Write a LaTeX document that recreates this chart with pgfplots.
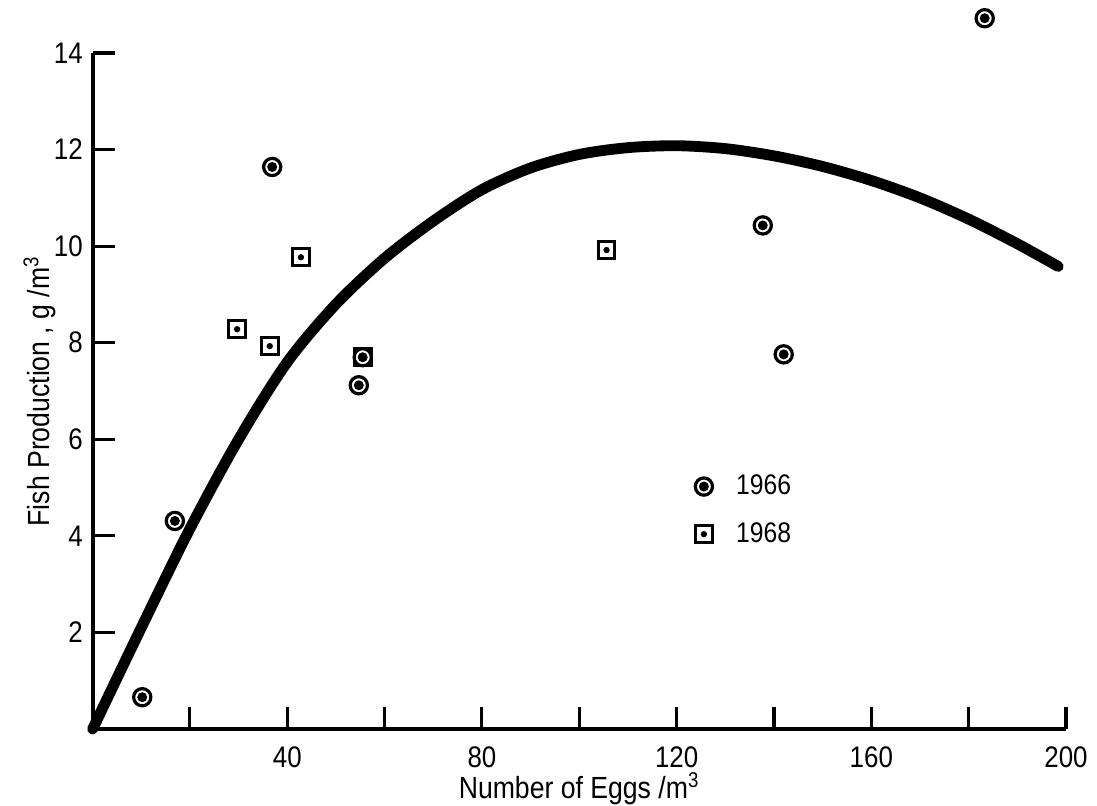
\documentclass[border=0pt]{standalone}
\usepackage{fontspec}
\setmainfont{Liberation Sans}[FakeStretch=0.87]
\usepackage{pgfplots}
\pgfplotsset{compat=1.18}
\pgfdeclareplotmark{bullseye}{%
  \pgfpathcircle{\pgfpointorigin}{\pgfplotmarksize}\pgfusepathqstroke
  \pgfpathcircle{\pgfpointorigin}{0.58\pgfplotmarksize}\pgfusepathqfill}
\pgfdeclareplotmark{dotsquare}{%
  \pgfpathrectangle{\pgfpoint{-\pgfplotmarksize}{-\pgfplotmarksize}}{\pgfpoint{2\pgfplotmarksize}{2\pgfplotmarksize}}\pgfusepathqstroke
  \pgfpathcircle{\pgfpointorigin}{0.38\pgfplotmarksize}\pgfusepathqfill}
\begin{document}
\begin{tikzpicture}
\begin{axis}[
  scale only axis, width=350pt, height=243.1pt,
  xmin=0, xmax=200, ymin=0, ymax=14,
  axis lines*=left,
  axis line style={line width=1.4pt},
  tick style={line width=1.1pt, black},
  tick align=inside, major tick length=8pt,
  xtick={20,40,...,200}, xticklabels={,40,,80,,120,,160,,200},
  ytick={2,4,...,14},
  /pgf/number format/assume math mode=true,
  tick label style={font=\fontsize{10.7}{12}\selectfont},
  xticklabel style={yshift=-2.7pt},
  label style={font=\fontsize{11}{13}\selectfont},
  xlabel={Number of Eggs /m\textsuperscript{3}},
  ylabel={Fish Production , g /m\textsuperscript{3}},
  xlabel style={yshift=5pt},
  ylabel style={yshift=-7.5pt},
  clip=false,
  legend style={draw=none, fill=none, at={(rel axis cs:0.61,0.3235)}, anchor=west,
    font=\fontsize{10.2}{12}\selectfont, row sep=4.5pt, column sep=6.5pt},
  legend cell align=left,
]
\addplot[line width=3.9pt, smooth, line cap=round, forget plot] coordinates {
(0,0) (10,2.1) (20,4.15) (30,6.0) (40,7.6) (50,8.8) (60,9.75) (70,10.52)
(80,11.17) (90,11.62) (100,11.9) (110,12.04) (120,12.08) (130,12.02)
(140,11.87) (150,11.65) (160,11.36) (170,11.0) (180,10.56) (190,10.05) (198.4,9.58)};
\addplot[only marks, mark=bullseye, mark size=3.1pt, mark options={line width=1.15pt, black}] coordinates {
(10.2,0.66) (16.9,4.31) (36.9,11.64) (54.7,7.12) (55.5,7.70) (137.7,10.43) (142.0,7.76) (183.3,14.72)};
\addlegendentry{1966}
\addplot[only marks, mark=dotsquare, mark size=3pt, mark options={line width=1.05pt, black}] coordinates {
(29.7,8.28) (36.4,7.93) (42.8,9.77) (55.5,7.70) (105.6,9.92)};
\addlegendentry{1968}
\end{axis}
\pgfresetboundingbox
\path ([shift={(-33.3pt,-27.3pt)}]current axis.south west) rectangle ([shift={(11.15pt,19.06pt)}]current axis.north east);
\end{tikzpicture}
\end{document}
